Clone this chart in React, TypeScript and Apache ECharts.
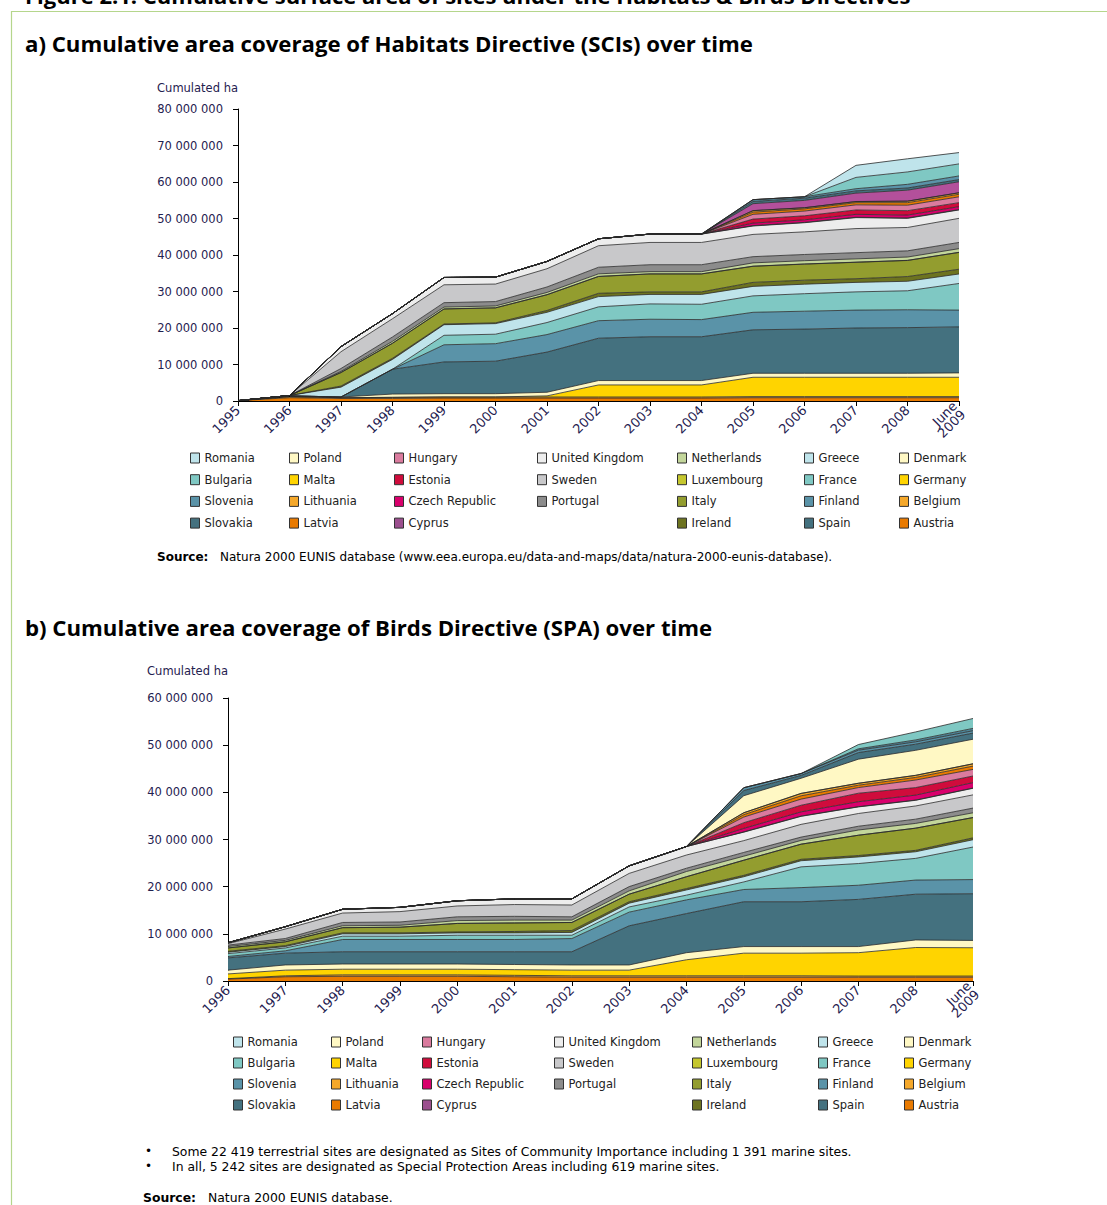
import React, { useEffect, useRef } from "react";
import * as echarts from "echarts";

// ---------- categories ----------
const sciYears = ["1995", "1996", "1997", "1998", "1999", "2000", "2001", "2002", "2003", "2004", "2005", "2006", "2007", "2008", "June\n2009"];
const spaYears = ["1996", "1997", "1998", "1999", "2000", "2001", "2002", "2003", "2004", "2005", "2006", "2007", "2008", "June\n2009"];

// ---------- a) Habitats Directive (SCIs), million ha ----------
const sciAustria = [0.1, 0.9, 0.7, 0.7, 0.8, 0.8, 0.8, 0.8, 0.8, 0.8, 0.9, 0.9, 0.9, 0.9, 0.9];
const sciBelgium = [0, 0.3, 0.2, 0.3, 0.3, 0.3, 0.3, 0.3, 0.3, 0.3, 0.3, 0.3, 0.3, 0.3, 0.3];
const sciGermany = [0, 0, 0, 0, 0, 0, 0.3, 3.3, 3.3, 3.3, 5.3, 5.3, 5.3, 5.3, 5.3];
const sciDenmark = [0, 0.2, 0.2, 0.9, 0.9, 0.9, 1.0, 1.2, 1.2, 1.2, 1.1, 1.1, 1.1, 1.1, 1.2];
const sciSpain = [0, 0, 0, 6.8, 8.7, 8.9, 11.0, 11.6, 12.0, 12.0, 11.9, 12.1, 12.4, 12.5, 12.6];
const sciFinland = [0, 0, 0, 0, 4.7, 4.8, 4.8, 4.8, 4.8, 4.7, 4.8, 4.9, 4.9, 4.9, 4.6];
const sciFrance = [0, 0, 0, 0, 2.6, 2.6, 3.3, 3.8, 4.2, 4.2, 4.5, 4.8, 5.0, 5.2, 7.3];
const sciGreece = [0, 0.1, 2.7, 2.7, 2.9, 2.9, 2.8, 2.8, 2.6, 2.7, 2.6, 2.6, 2.6, 2.6, 2.6];
const sciIreland = [0, 0, 0.3, 0.3, 0.2, 0.2, 0.5, 0.9, 0.7, 0.7, 1.1, 1.1, 1.0, 1.3, 1.3];
const sciItaly = [0, 0, 3.7, 4.1, 4.1, 4.1, 4.3, 4.6, 4.9, 4.9, 4.4, 4.4, 4.5, 4.4, 4.6];
const sciLuxembourg = [0, 0, 0, 0.04, 0.04, 0.04, 0.04, 0.04, 0.04, 0.04, 0.04, 0.04, 0.04, 0.04, 0.04];
const sciNetherlands = [0, 0, 0.3, 0.5, 0.5, 0.5, 0.6, 0.7, 0.6, 0.6, 0.9, 0.9, 0.9, 0.9, 1.0];
const sciPortugal = [0, 0, 0.8, 1.2, 1.2, 1.2, 1.5, 1.8, 1.9, 1.9, 1.7, 1.7, 1.7, 1.7, 1.7];
const sciSweden = [0, 0, 4.6, 5.0, 4.9, 4.8, 5.0, 5.9, 6.1, 6.1, 6.1, 6.2, 6.6, 6.4, 6.6];
const sciUnitedKingdom = [0, 0, 1.4, 1.4, 2.0, 1.9, 2.0, 1.9, 2.3, 2.3, 2.3, 2.5, 3.0, 2.5, 2.3];
const sciCyprus = [0, 0, 0, 0, 0, 0, 0, 0, 0, 0, 0.1, 0.1, 0.1, 0.1, 0.1];
const sciCzechRepublic = [0, 0, 0, 0, 0, 0, 0, 0, 0, 0, 0.7, 0.7, 0.8, 0.8, 0.8];
const sciEstonia = [0, 0, 0, 0, 0, 0, 0, 0, 0, 0, 1.1, 1.1, 1.2, 1.2, 1.1];
const sciHungary = [0, 0, 0, 0, 0, 0, 0, 0, 0, 0, 1.3, 1.3, 1.4, 1.5, 1.6];
const sciLatvia = [0, 0, 0, 0, 0, 0, 0, 0, 0, 0, 0.6, 0.6, 0.6, 0.7, 0.7];
const sciLithuania = [0, 0, 0, 0, 0, 0, 0, 0, 0, 0, 0.4, 0.3, 0.3, 0.4, 0.4];
const sciMalta = [0, 0, 0, 0, 0, 0, 0, 0, 0, 0, 0.02, 0.02, 0.02, 0.02, 0.02];
const sciPoland = [0, 0, 0, 0, 0, 0, 0, 0, 0, 0, 1.9, 2.0, 2.3, 3.0, 3.0];
const sciSlovakia = [0, 0, 0, 0, 0, 0, 0, 0, 0, 0, 0.6, 0.6, 0.6, 0.6, 0.6];
const sciSlovenia = [0, 0, 0, 0, 0, 0, 0, 0, 0, 0, 0.5, 0.4, 0.6, 1.0, 1.0];
const sciBulgaria = [0, 0, 0, 0, 0, 0, 0, 0, 0, 0, 0, 0, 3.1, 3.4, 3.3];
const sciRomania = [0, 0, 0, 0, 0, 0, 0, 0, 0, 0, 0, 0, 3.3, 3.6, 3.1];

// ---------- b) Birds Directive (SPAs), million ha ----------
const spaAustria = [0.4, 0.9, 1.0, 1.0, 1.0, 0.9, 0.8, 0.8, 0.8, 0.8, 0.8, 0.8, 0.8, 0.8];
const spaBelgium = [0.1, 0.2, 0.3, 0.3, 0.3, 0.3, 0.3, 0.3, 0.3, 0.3, 0.3, 0.25, 0.25, 0.25];
const spaGermany = [1.0, 1.2, 1.2, 1.2, 1.2, 1.2, 1.2, 1.2, 3.4, 4.8, 4.8, 4.95, 6.05, 6.0];
const spaDenmark = [0.8, 1.1, 1.1, 1.1, 1.1, 1.1, 1.1, 1.1, 1.5, 1.4, 1.4, 1.3, 1.6, 1.55];
const spaSpain = [2.6, 2.5, 2.6, 2.6, 2.6, 2.7, 2.8, 8.3, 8.3, 9.5, 9.5, 10.0, 9.7, 9.9];
const spaFinland = [0.3, 0.5, 2.6, 2.6, 2.6, 2.6, 2.8, 2.9, 2.9, 2.6, 3.0, 3.0, 3.0, 3.0];
const spaFrance = [0.6, 0.6, 0.7, 0.7, 0.9, 0.9, 0.7, 1.1, 1.0, 1.6, 4.4, 4.6, 4.6, 6.9];
const spaGreece = [0.3, 0.3, 0.5, 0.5, 0.5, 0.5, 0.6, 0.8, 1.1, 1.1, 1.3, 1.4, 1.4, 1.55];
const spaIreland = [0.2, 0.2, 0.2, 0.2, 0.2, 0.3, 0.4, 0.3, 0.3, 0.3, 0.3, 0.3, 0.3, 0.4];
const spaItaly = [0.7, 0.8, 1.1, 1.2, 1.8, 1.8, 1.7, 1.6, 2.5, 3.2, 3.2, 4.3, 4.7, 4.3];
const spaLuxembourg = [0.01, 0.01, 0.01, 0.01, 0.01, 0.01, 0.01, 0.01, 0.01, 0.01, 0.01, 0.01, 0.01, 0.01];
const spaNetherlands = [0.3, 0.3, 0.4, 0.4, 0.6, 0.6, 0.5, 0.7, 1.1, 0.85, 0.8, 1.1, 1.0, 1.0];
const spaPortugal = [0.3, 0.4, 0.7, 0.7, 0.8, 0.8, 0.7, 0.9, 0.7, 0.8, 0.7, 0.8, 0.9, 1.0];
const spaSweden = [0.3, 2.0, 2.0, 2.2, 2.3, 2.5, 2.5, 2.8, 2.8, 2.5, 2.7, 2.7, 2.8, 2.8];
const spaUnitedKingdom = [0.2, 0.5, 0.8, 0.9, 1.1, 1.2, 1.3, 1.6, 1.8, 1.8, 1.7, 1.4, 1.2, 1.4];
const spaCyprus = [0, 0, 0, 0, 0, 0, 0, 0, 0, 0.05, 0.05, 0.05, 0.05, 0.05];
const spaCzechRepublic = [0, 0, 0, 0, 0, 0, 0, 0, 0, 0.75, 0.9, 1.05, 1.05, 1.15];
const spaEstonia = [0, 0, 0, 0, 0, 0, 0, 0, 0, 1.2, 1.4, 1.8, 1.6, 1.4];
const spaHungary = [0, 0, 0, 0, 0, 0, 0, 0, 0, 1.2, 1.3, 1.2, 1.6, 1.4];
const spaLatvia = [0, 0, 0, 0, 0, 0, 0, 0, 0, 0.5, 0.7, 0.5, 0.55, 0.7];
const spaLithuania = [0, 0, 0, 0, 0, 0, 0, 0, 0, 0.4, 0.5, 0.4, 0.43, 0.48];
const spaMalta = [0, 0, 0, 0, 0, 0, 0, 0, 0, 0.02, 0.02, 0.02, 0.02, 0.02];
const spaPoland = [0, 0, 0, 0, 0, 0, 0, 0, 0, 3.6, 3.2, 5.1, 5.3, 5.2];
const spaSlovakia = [0, 0, 0, 0, 0, 0, 0, 0, 0, 1.1, 0.6, 1.4, 1.3, 1.3];
const spaSlovenia = [0, 0, 0, 0, 0, 0, 0, 0, 0, 0.6, 0.4, 0.5, 0.5, 0.5];
const spaBulgaria = [0, 0, 0, 0, 0, 0, 0, 0, 0, 0, 0, 0.3, 0.4, 0.5];
const spaRomania = [0, 0, 0, 0, 0, 0, 0, 0, 0, 0, 0, 0.9, 1.7, 2.1];

// ---------- tick labels ----------
const sciTicks = [0, 10, 20, 30, 40, 50, 60, 70, 80];
const spaTicks = [0, 10, 20, 30, 40, 50, 60];

// stack order, bottom to top
const countries = [
  "Austria", "Belgium", "Germany", "Denmark", "Spain", "Finland", "France", "Greece",
  "Ireland", "Italy", "Luxembourg", "Netherlands", "Portugal", "Sweden", "United Kingdom",
  "Cyprus", "Czech Republic", "Estonia", "Hungary", "Latvia", "Lithuania", "Malta",
  "Poland", "Slovakia", "Slovenia", "Bulgaria", "Romania",
];

const sciData: Record<string, number[]> = {
  Austria: sciAustria, Belgium: sciBelgium, Germany: sciGermany, Denmark: sciDenmark,
  Spain: sciSpain, Finland: sciFinland, France: sciFrance, Greece: sciGreece,
  Ireland: sciIreland, Italy: sciItaly, Luxembourg: sciLuxembourg, Netherlands: sciNetherlands,
  Portugal: sciPortugal, Sweden: sciSweden, "United Kingdom": sciUnitedKingdom,
  Cyprus: sciCyprus, "Czech Republic": sciCzechRepublic, Estonia: sciEstonia, Hungary: sciHungary,
  Latvia: sciLatvia, Lithuania: sciLithuania, Malta: sciMalta, Poland: sciPoland,
  Slovakia: sciSlovakia, Slovenia: sciSlovenia, Bulgaria: sciBulgaria, Romania: sciRomania,
};
const spaData: Record<string, number[]> = {
  Austria: spaAustria, Belgium: spaBelgium, Germany: spaGermany, Denmark: spaDenmark,
  Spain: spaSpain, Finland: spaFinland, France: spaFrance, Greece: spaGreece,
  Ireland: spaIreland, Italy: spaItaly, Luxembourg: spaLuxembourg, Netherlands: spaNetherlands,
  Portugal: spaPortugal, Sweden: spaSweden, "United Kingdom": spaUnitedKingdom,
  Cyprus: spaCyprus, "Czech Republic": spaCzechRepublic, Estonia: spaEstonia, Hungary: spaHungary,
  Latvia: spaLatvia, Lithuania: spaLithuania, Malta: spaMalta, Poland: spaPoland,
  Slovakia: spaSlovakia, Slovenia: spaSlovenia, Bulgaria: spaBulgaria, Romania: spaRomania,
};

const legendColors: Record<string, string> = {
  Romania: "#BFE4EB", Bulgaria: "#7FC8C3", Slovenia: "#5A93A8", Slovakia: "#44717F",
  Poland: "#FFF8C4", Malta: "#FFD400", Lithuania: "#F5A82A", Latvia: "#E97A00",
  Hungary: "#DA7B9E", Estonia: "#D00C3C", "Czech Republic": "#D9006C", Cyprus: "#9B4F8E",
  "United Kingdom": "#EDEDED", Sweden: "#C8C8CA", Portugal: "#8C8C8C",
  Netherlands: "#C3D69B", Luxembourg: "#C5C72E", Italy: "#939D2F", Ireland: "#6D7320",
  Greece: "#BFE4EB", France: "#7FC8C3", Finland: "#5A93A8", Spain: "#44717F",
  Denmark: "#FFF8C4", Germany: "#FFD400", Belgium: "#F5A82A", Austria: "#E97A00",
};
// area fills where the drawn picture differs from its legend swatch
const sciFillOverride: Record<string, string> = { Poland: "#B3509B" };
const spaFillOverride: Record<string, string> = { Romania: "#7FC8C3", Bulgaria: "#4F8698" };

const legendColumns = [
  ["Romania", "Bulgaria", "Slovenia", "Slovakia"],
  ["Poland", "Malta", "Lithuania", "Latvia"],
  ["Hungary", "Estonia", "Czech Republic", "Cyprus"],
  ["United Kingdom", "Sweden", "Portugal"],
  ["Netherlands", "Luxembourg", "Italy", "Ireland"],
  ["Greece", "France", "Finland", "Spain"],
  ["Denmark", "Germany", "Belgium", "Austria"],
];
const legendXA = [190, 289, 394, 537, 677, 804, 899];
const legendXB = [233, 331, 422, 554, 692, 818, 904];

const FONT = "'DejaVu Sans', Verdana, sans-serif";
const TITLE_FONT = "'Open Sans', Lato, sans-serif";
const AXIS_TEXT = "#1f2150";

function buildOption(): any {
  const series: any[] = [];
  countries.forEach((name) => {
    series.push({
      type: "line", name, data: sciData[name], stack: "sci",
      xAxisIndex: 0, yAxisIndex: 0, symbol: "none", showSymbol: false,
      lineStyle: { color: "#2a2a2a", width: 0.8 },
      areaStyle: { color: sciFillOverride[name] || legendColors[name], opacity: 1 },
      itemStyle: { color: sciFillOverride[name] || legendColors[name] },
      emphasis: { disabled: true }, silent: true,
    });
  });
  countries.forEach((name) => {
    series.push({
      type: "line", name, data: spaData[name], stack: "spa",
      xAxisIndex: 1, yAxisIndex: 1, symbol: "none", showSymbol: false,
      lineStyle: { color: "#2a2a2a", width: 0.8 },
      areaStyle: { color: spaFillOverride[name] || legendColors[name], opacity: 1 },
      itemStyle: { color: spaFillOverride[name] || legendColors[name] },
      emphasis: { disabled: true }, silent: true,
    });
  });

  const makeLegends = (xs: number[], top: number, gap: number) =>
    legendColumns.map((col, i) => ({
      orient: "vertical", left: xs[i], top, padding: 0, itemGap: gap,
      itemWidth: 9, itemHeight: 10, icon: "rect", selectedMode: false,
      textStyle: { fontFamily: FONT, fontSize: 11.5, color: "#222", lineHeight: 14 },
      data: col.map((n) => ({
        name: n,
        itemStyle: { color: legendColors[n], borderColor: "#333", borderWidth: 1 },
      })),
    }));

  const xAxisBase = (gridIndex: number, data: string[]) => ({
    type: "category", gridIndex, data, boundaryGap: false,
    axisLine: { show: true, lineStyle: { color: "#000", width: 1 } },
    axisTick: { show: true, length: 5, interval: 0, lineStyle: { color: "#000" } },
    axisLabel: {
      rotate: 45, interval: 0, margin: 7, fontFamily: FONT, fontSize: 13,
      color: AXIS_TEXT, lineHeight: 12,
    },
    splitLine: { show: false },
  });
  const yAxisBase = (gridIndex: number, ticks: number[], nameGap: number) => ({
    type: "value", gridIndex, min: ticks[0], max: ticks[ticks.length - 1], interval: ticks[1] - ticks[0],
    axisLine: { show: true, lineStyle: { color: "#000", width: 1 } },
    axisTick: { show: true, length: 5, lineStyle: { color: "#000" } },
    splitLine: { show: false },
    axisLabel: {
      margin: 15, fontFamily: FONT, fontSize: 11.5, color: AXIS_TEXT,
      formatter: (v: number) => (v === 0 ? "0" : `${v} 000 000`),
    },
    name: "Cumulated ha", nameLocation: "end", nameGap,
    nameTextStyle: { align: "right", verticalAlign: "middle", fontFamily: FONT, fontSize: 11.5, color: AXIS_TEXT },
  });

  const border = "#B5D68C";
  return {
    animation: false,
    backgroundColor: "#fff",
    grid: [
      { left: 238, top: 109, width: 721, height: 292, containLabel: false, outerBoundsMode: "none" },
      { left: 228, top: 698, width: 745, height: 283, containLabel: false, outerBoundsMode: "none" },
    ],
    xAxis: [xAxisBase(0, sciYears), xAxisBase(1, spaYears)],
    yAxis: [yAxisBase(0, sciTicks, 21), yAxisBase(1, spaTicks, 27)],
    legend: [...makeLegends(legendXA, 451, 7.7), ...makeLegends(legendXB, 1035, 7)],
    tooltip: { show: false },
    series,
    graphic: [
      { type: "text", x: 25, y: 6, silent: true, style: { text: "Figure 2.1: Cumulative surface area of sites under the Habitats & Birds Directives", fontFamily: TITLE_FONT, fontWeight: "bold", fontSize: 22, fill: "#000", verticalAlign: "bottom" } },
      { type: "line", silent: true, shape: { x1: 11, y1: 11.5, x2: 1107, y2: 11.5 }, style: { stroke: border, lineWidth: 1.2 } },
      { type: "line", silent: true, shape: { x1: 11.5, y1: 11, x2: 11.5, y2: 1205 }, style: { stroke: border, lineWidth: 1.2 } },
      { type: "text", x: 25, y: 43, silent: true, style: { text: "a) Cumulative area coverage of Habitats Directive (SCIs) over time", fontFamily: TITLE_FONT, fontWeight: "bold", fontSize: 22.2, fill: "#000", verticalAlign: "middle" } },
      { type: "text", x: 157, y: 557, silent: true, style: { text: "Source:", fontFamily: FONT, fontWeight: "bold", fontSize: 12, fill: "#000", verticalAlign: "middle" } },
      { type: "text", x: 220, y: 557, silent: true, style: { text: "Natura 2000 EUNIS database (www.eea.europa.eu/data-and-maps/data/natura-2000-eunis-database).", fontFamily: FONT, fontSize: 12, fill: "#000", verticalAlign: "middle" } },
      { type: "text", x: 25, y: 627, silent: true, style: { text: "b) Cumulative area coverage of Birds Directive (SPA) over time", fontFamily: TITLE_FONT, fontWeight: "bold", fontSize: 22.2, fill: "#000", verticalAlign: "middle" } },
      { type: "text", x: 145, y: 1151, silent: true, style: { text: "•", fontFamily: FONT, fontSize: 12, fill: "#000", verticalAlign: "middle" } },
      { type: "text", x: 172, y: 1151, silent: true, style: { text: "Some 22 419 terrestrial sites are designated as Sites of Community Importance including 1 391 marine sites.", fontFamily: FONT, fontSize: 12.4, fill: "#000", verticalAlign: "middle" } },
      { type: "text", x: 145, y: 1166, silent: true, style: { text: "•", fontFamily: FONT, fontSize: 12, fill: "#000", verticalAlign: "middle" } },
      { type: "text", x: 172, y: 1166, silent: true, style: { text: "In all, 5 242 sites are designated as Special Protection Areas including 619 marine sites.", fontFamily: FONT, fontSize: 12.4, fill: "#000", verticalAlign: "middle" } },
      { type: "text", x: 143, y: 1197, silent: true, style: { text: "Source:", fontFamily: FONT, fontWeight: "bold", fontSize: 12.4, fill: "#000", verticalAlign: "middle" } },
      { type: "text", x: 208, y: 1197, silent: true, style: { text: "Natura 2000 EUNIS database.", fontFamily: FONT, fontSize: 12.4, fill: "#000", verticalAlign: "middle" } },
    ],
  };
}

export default function App() {
  const ref = useRef<HTMLDivElement>(null);
  useEffect(() => {
    document.body.style.margin = "0";
    if (!ref.current) return;
    const chart = echarts.init(ref.current, undefined, { renderer: "svg" });
    chart.setOption(buildOption());
    return () => chart.dispose();
  }, []);
  return <div ref={ref} style={{ width: 1107, height: 1205 }} />;
}
